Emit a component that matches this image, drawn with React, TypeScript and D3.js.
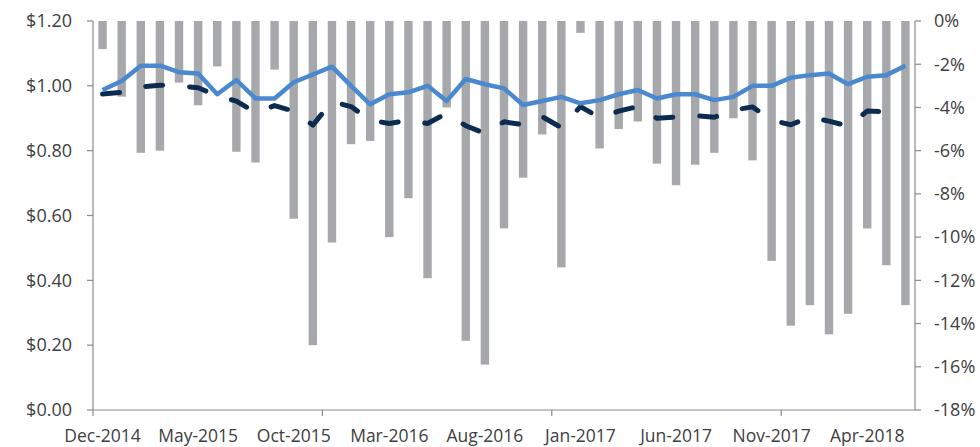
import React, { useEffect, useRef } from 'react';
import * as d3 from 'd3';

const months = [
  'Dec-2014', 'Jan-2015', 'Feb-2015', 'Mar-2015', 'Apr-2015', 'May-2015', 'Jun-2015', 'Jul-2015',
  'Aug-2015', 'Sep-2015', 'Oct-2015', 'Nov-2015', 'Dec-2015', 'Jan-2016', 'Feb-2016', 'Mar-2016',
  'Apr-2016', 'May-2016', 'Jun-2016', 'Jul-2016', 'Aug-2016', 'Sep-2016', 'Oct-2016', 'Nov-2016',
  'Dec-2016', 'Jan-2017', 'Feb-2017', 'Mar-2017', 'Apr-2017', 'May-2017', 'Jun-2017', 'Jul-2017',
  'Aug-2017', 'Sep-2017', 'Oct-2017', 'Nov-2017', 'Dec-2017', 'Jan-2018', 'Feb-2018', 'Mar-2018',
  'Apr-2018', 'May-2018', 'Jun-2018',
];

// right axis, percent (bars hang down from 0%)
const barPct = [
  -1.3, -3.5, -6.1, -6.0, -2.85, -3.9, -2.1, -6.05, -6.55, -2.25, -9.15, -15.0, -10.25,
  -5.7, -5.55, -10.0, -8.2, -11.9, -4.0, -14.8, -15.9, -9.6, -7.25, -5.25, -11.4, -0.55,
  -5.9, -5.0, -4.65, -6.6, -7.6, -6.65, -6.1, -4.5, -6.45, -11.1, -14.1, -13.15, -14.5,
  -13.55, -9.6, -11.3, -13.15,
];

// left axis, dollars
const solidLine = [
  0.987, 1.015, 1.062, 1.062, 1.042, 1.038, 0.974, 1.018, 0.961, 0.961, 1.011, 1.035, 1.059,
  1.0, 0.943, 0.974, 0.98, 1.0, 0.953, 1.021, 1.005, 0.992, 0.941, 0.953, 0.966, 0.946,
  0.956, 0.974, 0.987, 0.961, 0.974, 0.974, 0.956, 0.966, 1.0, 1.0, 1.025, 1.033, 1.038,
  1.005, 1.028, 1.033, 1.062,
];

const dashedLine = [
  0.975, 0.98, 0.997, 1.002, 1.0, 0.994, 0.969, 0.953, 0.918, 0.939, 0.922, 0.879, 0.951,
  0.936, 0.894, 0.884, 0.894, 0.884, 0.915, 0.877, 0.853, 0.889, 0.88, 0.905, 0.871, 0.936,
  0.902, 0.922, 0.936, 0.9, 0.904, 0.908, 0.903, 0.925, 0.935, 0.894, 0.88, 0.904, 0.891,
  0.876, 0.922, 0.92, 0.928,
];

const leftTicks = [0, 0.2, 0.4, 0.6, 0.8, 1.0, 1.2];
const rightTicks = [0, -2, -4, -6, -8, -10, -12, -14, -16, -18];
const labelEvery = 5;
const tickEvery = 12;

const width = 980;
const height = 447;
const left = 93;
const right = 915;
const top = 21;
const bottom = 410;
const font = '"Open Sans", sans-serif';
const textColor = '#404040';
const axisColor = '#8c8c8c';

const App = () => {
  const ref = useRef(null);

  useEffect(() => {
    const svg = d3.select(ref.current);
    svg.selectAll('*').remove();

    const x = d3.scaleBand()
      .domain(months)
      .range([left, right])
      .paddingInner(0.56)
      .paddingOuter(0.28);
    const cx = (m: string) => (x(m) as number) + x.bandwidth() / 2;
    const xEdge = d3.scaleLinear().domain([0, months.length]).range([left, right]);

    const yLeft = d3.scaleLinear().domain([0, 1.2]).range([bottom, top]);
    const yRight = d3.scaleLinear().domain([-18, 0]).range([bottom, top]);

    // bars
    svg.append('g')
      .selectAll('rect')
      .data(barPct)
      .join('rect')
      .attr('x', (d, i) => x(months[i]) as number)
      .attr('y', yRight(0))
      .attr('width', x.bandwidth())
      .attr('height', d => yRight(d) - yRight(0))
      .attr('fill', '#a6a8ab');

    // axes
    const axes = svg.append('g').attr('stroke', axisColor).attr('stroke-width', 1.2);
    axes.append('line').attr('x1', left).attr('x2', left).attr('y1', top).attr('y2', bottom);
    axes.append('line').attr('x1', right).attr('x2', right).attr('y1', top).attr('y2', bottom);
    axes.append('line').attr('x1', left).attr('x2', right).attr('y1', bottom).attr('y2', bottom);
    axes.selectAll('.lt').data(leftTicks).join('line')
      .attr('x1', left - 6).attr('x2', left)
      .attr('y1', d => yLeft(d)).attr('y2', d => yLeft(d));
    axes.selectAll('.rt').data(rightTicks).join('line')
      .attr('x1', right).attr('x2', right + 6)
      .attr('y1', d => yRight(d)).attr('y2', d => yRight(d));
    const edgeTicks = d3.range(0, months.length, tickEvery);
    axes.selectAll('.bt').data(edgeTicks).join('line')
      .attr('x1', d => xEdge(d)).attr('x2', d => xEdge(d))
      .attr('y1', bottom).attr('y2', bottom + 6);

    // lines
    const lineGen = d3.line<number>()
      .x((d, i) => cx(months[i]))
      .y(d => yLeft(d));

    svg.append('path')
      .datum(dashedLine)
      .attr('d', lineGen)
      .attr('fill', 'none')
      .attr('stroke', '#0c2b50')
      .attr('stroke-width', 5)
      .attr('stroke-linecap', 'round')
      .attr('stroke-linejoin', 'round')
      .attr('stroke-dasharray', '17 27');

    svg.append('path')
      .datum(solidLine)
      .attr('d', lineGen)
      .attr('fill', 'none')
      .attr('stroke', '#4a89d0')
      .attr('stroke-width', 4.5)
      .attr('stroke-linejoin', 'round');

    // labels
    const labels = svg.append('g')
      .attr('font-family', font)
      .attr('font-size', 18)
      .attr('fill', textColor);

    labels.selectAll('.ll').data(leftTicks).join('text')
      .attr('x', 72)
      .attr('y', d => yLeft(d))
      .attr('dy', '0.35em')
      .attr('text-anchor', 'end')
      .text(d => d3.format('$.2f')(d));

    labels.selectAll('.rl').data(rightTicks).join('text')
      .attr('x', 934)
      .attr('y', d => yRight(d))
      .attr('dy', '0.35em')
      .attr('text-anchor', 'start')
      .text(d => d + '%');

    labels.selectAll('.bl').data(months.filter((m, i) => i % labelEvery === 0)).join('text')
      .attr('x', d => cx(d))
      .attr('y', 442)
      .attr('font-size', 17.5)
      .attr('text-anchor', 'middle')
      .text(d => d);
  }, []);

  return (
    <svg
      ref={ref}
      width={width}
      height={height}
      style={{ position: 'absolute', left: 0, top: 0, background: '#fff' }}
    />
  );
};

export default App;
